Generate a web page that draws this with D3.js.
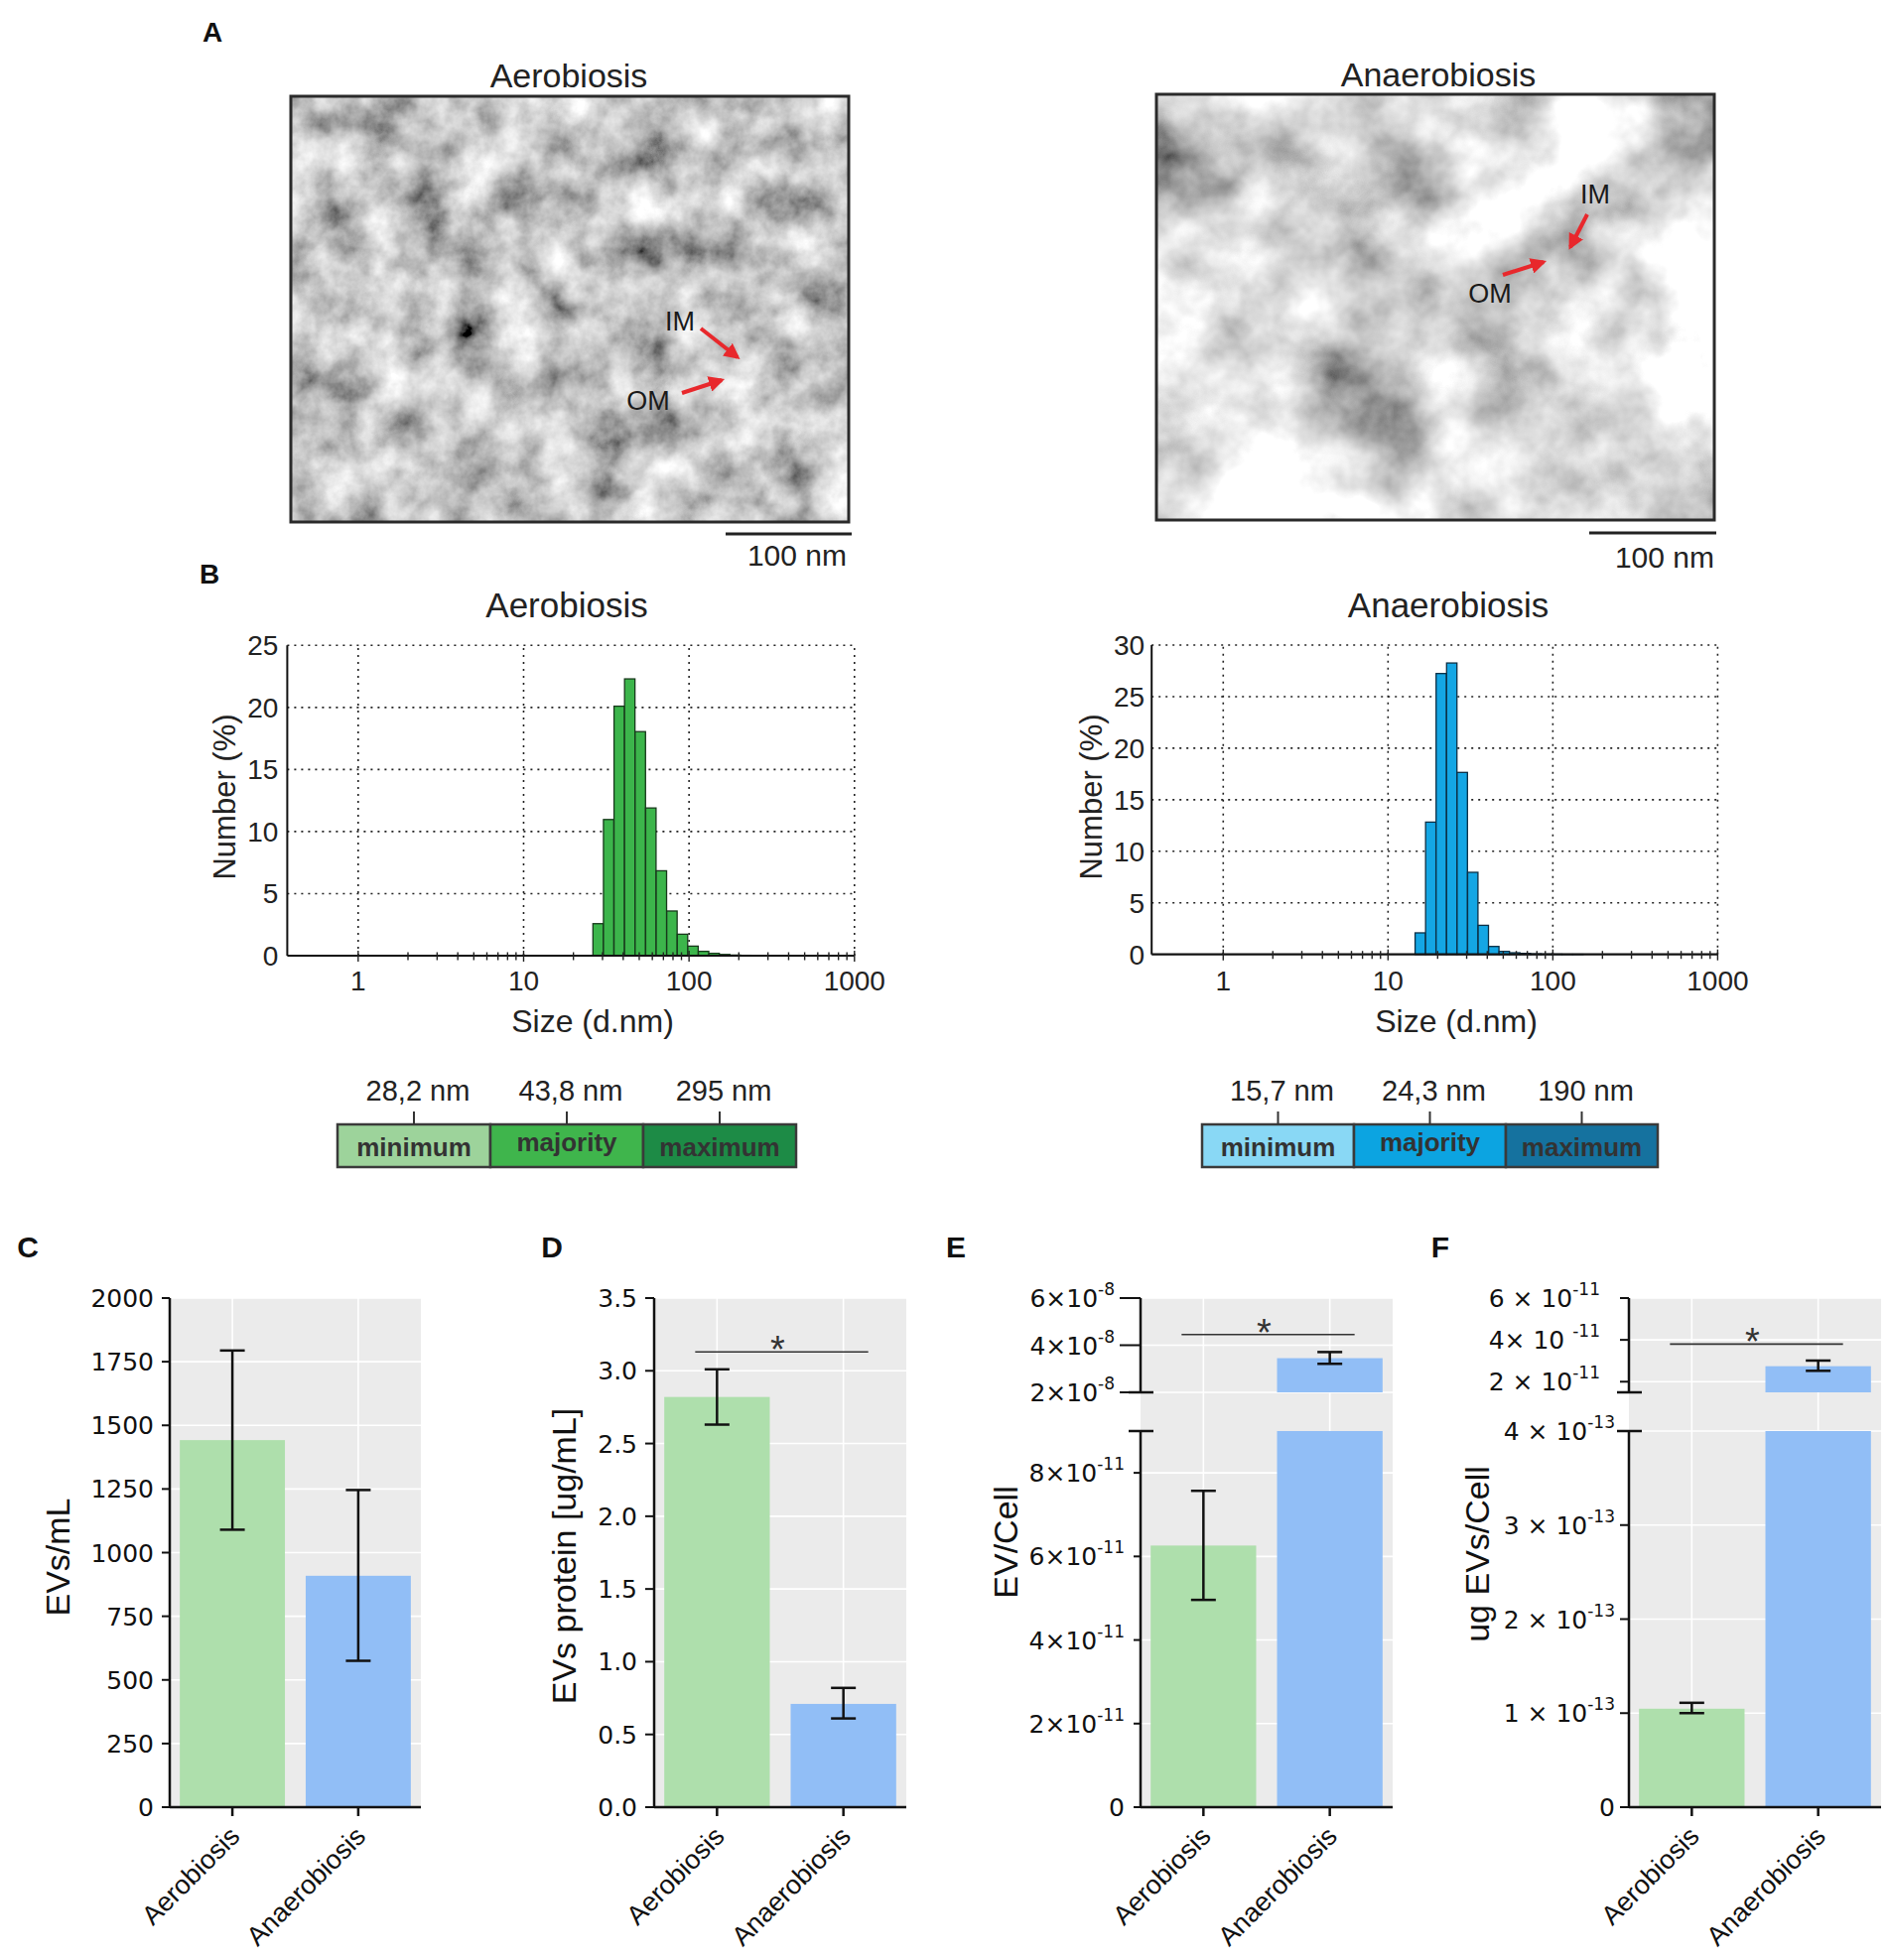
<!DOCTYPE html>
<html><head><meta charset="utf-8">
<script src="https://cdn.jsdelivr.net/npm/d3@7/dist/d3.min.js"></script>
<style>body{margin:0;background:#fff} text{font-family:"Liberation Sans",Arial,Helvetica,sans-serif;white-space:pre}</style>
</head><body>
<svg id="fig" width="1902" height="1975" xmlns="http://www.w3.org/2000/svg"></svg>
<script>
// ---------------- DATA ----------------
const conditions = ["Aerobiosis", "Anaerobiosis"];

// Panel B: DLS number distribution (Zetasizer size classes, d.nm)
const sizeClassesNm = [15.69, 18.17, 21.04, 24.36, 28.21, 32.67, 37.84, 43.82, 50.75, 58.77, 68.06, 78.82, 91.28, 105.7, 122.4, 141.8, 164.2, 190.1, 220.2, 255.0, 295.3];
const aeroNumberPct   = [0, 0, 0, 0, 2.58, 10.97, 20.1, 22.3, 18.05, 11.9, 6.84, 3.6, 1.73, 0.77, 0.35, 0.19, 0.1, 0.05, 0.03, 0.02, 0.01];
const anaeroNumberPct = [2.09, 12.83, 27.24, 28.26, 17.65, 7.96, 2.82, 0.77, 0.29, 0.16, 0.1, 0.05, 0.03, 0.02, 0.01, 0.01, 0, 0, 0, 0, 0];
const sizeTicks = [1, 10, 100, 1000];
const statNames = ["minimum", "majority", "maximum"];
const aeroStatLabels = ["28,2 nm", "43,8 nm", "295 nm"];
const anaeroStatLabels = ["15,7 nm", "24,3 nm", "190 nm"];

// Panel C
const evsPerMl = [1442, 909];
const evsPerMlLow = [1090, 575];
const evsPerMlHigh = [1794, 1246];
const cTicks = [0, 250, 500, 750, 1000, 1250, 1500, 1750, 2000];
const cTickLabels = ["0", "250", "500", "750", "1000", "1250", "1500", "1750", "2000"];

// Panel D
const protein = [2.82, 0.71];
const proteinLow = [2.63, 0.61];
const proteinHigh = [3.01, 0.82];
const dTicks = [0, 0.5, 1, 1.5, 2, 2.5, 3, 3.5];
const dTickLabels = ["0.0", "0.5", "1.0", "1.5", "2.0", "2.5", "3.0", "3.5"];
const dSignif = 3.13;

// Panel E
const evPerCell = [6.26e-11, 3.45e-8];
const evPerCellLow = [4.96e-11, 3.21e-8];
const evPerCellHigh = [7.57e-11, 3.71e-8];
const eLowerTicks = [0, 2e-11, 4e-11, 6e-11, 8e-11];
const eLowerLabels = ["0", ["2×10", "-11"], ["4×10", "-11"], ["6×10", "-11"], ["8×10", "-11"]];
const eUpperTicks = [2e-8, 4e-8, 6e-8];
const eUpperLabels = [["2×10", "-8"], ["4×10", "-8"], ["6×10", "-8"]];
const eSignif = 4.45e-8;

// Panel F
const ugPerCell = [1.047e-13, 2.74e-11];
const ugPerCellLow = [1.0e-13, 2.52e-11];
const ugPerCellHigh = [1.11e-13, 3.01e-11];
const fLowerTicks = [0, 1e-13, 2e-13, 3e-13, 4e-13];
const fLowerLabels = ["0", ["1 × 10", "-13"], ["2 × 10", "-13"], ["3 × 10", "-13"], ["4 × 10", "-13"]];
const fUpperTicks = [2e-11, 4e-11, 6e-11];
const fUpperLabels = [["2 × 10", "-11"], ["4× 10 ", "-11"], ["6 × 10", "-11"]];
const fSignif = 3.8e-11;

// ---------------- DRAWING ----------------
const svg = d3.select("#fig");
svg.append("rect").attr("width", 1902).attr("height", 1975).attr("fill", "#fff");
const defs = svg.append("defs");

function text(g, x, y, s, o = {}) {
  return g.append("text").attr("x", x).attr("y", y).text(s)
    .attr("font-size", o.size || 26).attr("fill", o.fill || "#1a1a1a")
    .attr("text-anchor", o.anchor || "start")
    .attr("font-weight", o.weight || "normal");
}

// ---- Panel A (micrographs) ----
const micro = [
  {title: "Aerobiosis", tx: 573, ty: 88, x: 293, y: 97, w: 562, h: 429, freq: 0.022, gain: 1.35, mean: 0.56, seed: 4,
   bar: [731, 858, 538], barText: [853, 570],
   labels: [["IM", 685, 333], ["OM", 653, 413]],
   arrows: [[706, 331, 743, 360], [687, 396, 727, 383]]},
  {title: "Anaerobiosis", tx: 1449, ty: 87, x: 1165, y: 95, w: 562, h: 429, freq: 0.009, gain: 1.9, mean: 0.72, seed: 11,
   bar: [1601, 1729, 537], barText: [1727, 572],
   labels: [["IM", 1607, 205], ["OM", 1501, 305]],
   arrows: [[1599, 216, 1582, 249], [1514, 277, 1555, 264]]}
];
defs.append("marker").attr("id", "redArrow").attr("viewBox", "0 0 10 10").attr("refX", 8).attr("refY", 5)
  .attr("markerWidth", 4).attr("markerHeight", 4).attr("orient", "auto")
  .append("path").attr("d", "M0,0 L10,5 L0,10 z").attr("fill", "#e8282c");
text(svg, 214, 42, "A", {size: 28, weight: "bold", anchor: "middle", fill: "#111"});
micro.forEach((m, i) => {
  const f = defs.append("filter").attr("id", "em" + i).attr("filterUnits", "userSpaceOnUse")
    .attr("x", m.x).attr("y", m.y).attr("width", m.w).attr("height", m.h);
  f.append("feTurbulence").attr("type", "fractalNoise").attr("baseFrequency", m.freq)
    .attr("numOctaves", 5).attr("seed", m.seed).attr("result", "n");
  const b = m.mean - m.gain * 0.5;
  f.append("feColorMatrix").attr("in", "n").attr("type", "matrix")
    .attr("values", `${m.gain} 0 0 0 ${b}  ${m.gain} 0 0 0 ${b}  ${m.gain} 0 0 0 ${b}  0 0 0 0 1`);
  svg.append("rect").attr("x", m.x).attr("y", m.y).attr("width", m.w).attr("height", m.h)
    .attr("fill", "#999").attr("filter", `url(#em${i})`);
  svg.append("rect").attr("x", m.x).attr("y", m.y).attr("width", m.w).attr("height", m.h)
    .attr("fill", "none").attr("stroke", "#2a2a2a").attr("stroke-width", 3);
  text(svg, m.tx, m.ty, m.title, {size: 34, anchor: "middle", fill: "#222"});
  svg.append("line").attr("x1", m.bar[0]).attr("x2", m.bar[1]).attr("y1", m.bar[2]).attr("y2", m.bar[2])
    .attr("stroke", "#222").attr("stroke-width", 3);
  text(svg, m.barText[0], m.barText[1], "100 nm", {size: 30, anchor: "end", fill: "#222"});
  m.labels.forEach(l => text(svg, l[1], l[2], l[0], {size: 27, anchor: "middle", fill: "#1a1a1a"}));
  m.arrows.forEach(a => svg.append("line").attr("x1", a[0]).attr("y1", a[1]).attr("x2", a[2]).attr("y2", a[3])
    .attr("stroke", "#e8282c").attr("stroke-width", 4).attr("marker-end", "url(#redArrow)"));
});

// ---- Panel B (histograms) ----
const binHalfRatio = 1.075; // half-width of a Zetasizer size class (log-spaced)
text(svg, 211, 588, "B", {size: 28, weight: "bold", anchor: "middle", fill: "#111"});
function histPanel(cfg) {
  const g = svg.append("g");
  const x = d3.scaleLog().domain([cfg.xmin, 1000]).range([cfg.x0, cfg.x1]);
  const y = d3.scaleLinear().domain([0, cfg.ymax]).range([cfg.y0, cfg.yTop]);
  const yt = y.ticks(cfg.ymax / 5);
  const dot = {stroke: "#222", "stroke-width": 1.6, "stroke-dasharray": "2,5"};
  yt.filter(t => t > 0).forEach(t => {
    const l = g.append("line").attr("x1", cfg.x0).attr("x2", cfg.x1).attr("y1", y(t)).attr("y2", y(t));
    Object.entries(dot).forEach(([k, v]) => l.attr(k, v));
  });
  sizeTicks.forEach(t => {
    const l = g.append("line").attr("x1", x(t)).attr("x2", x(t)).attr("y1", cfg.y0).attr("y2", cfg.yTop);
    Object.entries(dot).forEach(([k, v]) => l.attr(k, v));
  });
  g.selectAll("rect.bin").data(sizeClassesNm.map((s, i) => ({s, v: cfg.values[i]})).filter(d => d.v > 0))
    .join("rect").attr("class", "bin")
    .attr("x", d => x(d.s / binHalfRatio)).attr("width", d => x(d.s * binHalfRatio) - x(d.s / binHalfRatio))
    .attr("y", d => y(d.v)).attr("height", d => cfg.y0 - y(d.v))
    .attr("fill", cfg.fill).attr("stroke", cfg.stroke).attr("stroke-width", 1.3);
  g.append("line").attr("x1", cfg.x0).attr("x2", cfg.x0).attr("y1", cfg.y0).attr("y2", cfg.yTop)
    .attr("stroke", "#111").attr("stroke-width", 2);
  g.append("line").attr("x1", cfg.x0).attr("x2", cfg.x1).attr("y1", cfg.y0).attr("y2", cfg.y0)
    .attr("stroke", "#111").attr("stroke-width", 2.2);
  x.ticks().filter(t => t >= 1).forEach(t => {
    const major = sizeTicks.includes(t);
    g.append("line").attr("x1", x(t)).attr("x2", x(t)).attr("y1", cfg.y0 - (major ? 5 : 3.5)).attr("y2", cfg.y0 + (major ? 6 : 4.5))
      .attr("stroke", "#222").attr("stroke-width", 1.4);
  });
  yt.forEach(t => text(g, cfg.x0 - cfg.labGap, y(t) + 10, String(t), {size: 28, anchor: "end", fill: "#222"}));
  sizeTicks.forEach(t => text(g, x(t), 998, String(t), {size: 28, anchor: "middle", fill: "#222"}));
  text(g, cfg.titleX, 622, cfg.title, {size: 35, anchor: "middle", fill: "#222"});
  text(g, cfg.xlabX, 1040, "Size (d.nm)", {size: 32, anchor: "middle", fill: "#222"});
  text(g, 0, 0, "Number (%)", {size: 31, anchor: "middle", fill: "#222"})
    .attr("transform", `translate(${cfg.ylabX},803) rotate(-90)`);
  const lb = d3.scaleBand().domain(statNames).range(cfg.legend);
  statNames.forEach((n, i) => {
    g.append("rect").attr("x", lb(n)).attr("y", 1133).attr("width", lb.bandwidth()).attr("height", 43)
      .attr("fill", cfg.legendColors[i]).attr("stroke", "#3a3a3a").attr("stroke-width", 2.5);
    const cx = lb(n) + lb.bandwidth() / 2;
    g.append("line").attr("x1", cx).attr("x2", cx).attr("y1", 1120).attr("y2", 1133).attr("stroke", "#333").attr("stroke-width", 2);
    text(g, cx + 4, 1109, cfg.statLabels[i], {size: 29, anchor: "middle", fill: "#222"});
    text(g, cx, n === "majority" ? 1160 : 1165, n, {size: 26, anchor: "middle", fill: "#333", weight: "bold"});
  });
}
histPanel({values: aeroNumberPct, xmin: 0.3727, x0: 289.4, x1: 860.8, y0: 963, yTop: 650.3, ymax: 25,
  fill: "#3cb54b", stroke: "#17391b", labGap: 9, title: "Aerobiosis", titleX: 571, xlabX: 597, ylabX: 237,
  legend: [340, 802], legendColors: ["#9dd39b", "#3fb54c", "#1d8b46"], statLabels: aeroStatLabels});
histPanel({values: anaeroNumberPct, xmin: 0.368, x0: 1160.2, x1: 1730.4, y0: 961.7, yTop: 650, ymax: 30,
  fill: "#14a6e4", stroke: "#0b2f45", labGap: 7, title: "Anaerobiosis", titleX: 1459, xlabX: 1467, ylabX: 1110,
  legend: [1211, 1670], legendColors: ["#89d8f5", "#0ca4e1", "#15729f"], statLabels: anaeroStatLabels});

// ---- Panels C-F (bar charts) ----
const barColors = ["#aedfac", "#91bef6"];
function tickLabel(g, x, y, lab) {
  const t = g.append("text").attr("x", x).attr("y", y).attr("text-anchor", "end")
    .attr("font-size", 25).attr("fill", "#111").attr("dy", "0.36em")
    .style("font-family", "'DejaVu Sans', Verdana, sans-serif");
  if (typeof lab === "string") { t.text(lab); return; }
  t.append("tspan").text(lab[0]);
  t.append("tspan").attr("font-size", 17).attr("dy", -12).text(lab[1]);
}
function barPanel(cfg) {
  const g = svg.append("g");
  const x = d3.scaleBand().domain(conditions).range([cfg.x0, cfg.x1]).paddingInner(0.165).paddingOuter(0.08);
  const segs = cfg.segs.map(s => ({...s, scale: d3.scaleLinear().domain(s.domain).range(s.range)}));
  const yOf = v => {
    for (const s of segs) if (v >= s.domain[0] && v <= s.domain[1]) return s.scale(v);
    return segs[segs.length - 1].scale(v);
  };
  const yBottom = segs[0].range[0], yTop = segs[segs.length - 1].range[1];
  g.append("rect").attr("x", cfg.x0).attr("y", yTop).attr("width", cfg.x1 - cfg.x0).attr("height", yBottom - yTop).attr("fill", "#ebebeb");
  segs.forEach(s => s.ticks.filter(t => t > 0).forEach(t =>
    g.append("line").attr("x1", cfg.x0).attr("x2", cfg.x1).attr("y1", s.scale(t)).attr("y2", s.scale(t))
      .attr("stroke", "#fff").attr("stroke-width", 1.6)));
  conditions.forEach(c => g.append("line").attr("x1", x(c) + x.bandwidth() / 2).attr("x2", x(c) + x.bandwidth() / 2)
    .attr("y1", yTop).attr("y2", yBottom).attr("stroke", "#fff").attr("stroke-width", 1.6));
  conditions.forEach((c, i) => {
    const v = cfg.values[i];
    segs.forEach(s => {
      if (v <= s.domain[0] && s.domain[0] !== 0) return;
      const top = Math.min(v, s.domain[1]);
      g.append("rect").attr("x", x(c)).attr("width", x.bandwidth())
        .attr("y", s.scale(top)).attr("height", s.scale(s.domain[0]) - s.scale(top)).attr("fill", barColors[i]);
    });
  });
  conditions.forEach((c, i) => {
    const cx = x(c) + x.bandwidth() / 2, y1 = yOf(cfg.low[i]), y2 = yOf(cfg.high[i]);
    g.append("line").attr("x1", cx).attr("x2", cx).attr("y1", y1).attr("y2", y2).attr("stroke", "#111").attr("stroke-width", 2.5);
    [y1, y2].forEach(yy => g.append("line").attr("x1", cx - 12.5).attr("x2", cx + 12.5).attr("y1", yy).attr("y2", yy)
      .attr("stroke", "#111").attr("stroke-width", 2.5));
  });
  segs.forEach(s => {
    g.append("line").attr("x1", cfg.x0).attr("x2", cfg.x0).attr("y1", s.range[0]).attr("y2", s.range[1]).attr("stroke", "#111").attr("stroke-width", 2.5);
    s.ticks.forEach((t, k) => {
      g.append("line").attr("x1", cfg.x0 - s.tickLen).attr("x2", cfg.x0).attr("y1", s.scale(t)).attr("y2", s.scale(t))
        .attr("stroke", "#111").attr("stroke-width", 2);
      tickLabel(g, cfg.x0 - s.tickLen - s.gap, s.scale(t), s.labels[k]);
    });
  });
  if (segs.length > 1) {
    [segs[0].range[1], segs[1].range[0]].forEach(yy =>
      g.append("line").attr("x1", cfg.x0 - 12).attr("x2", cfg.x0 + 13).attr("y1", yy).attr("y2", yy)
        .attr("stroke", "#111").attr("stroke-width", 2.5));
  }
  g.append("line").attr("x1", cfg.x0).attr("x2", cfg.x1).attr("y1", yBottom).attr("y2", yBottom).attr("stroke", "#111").attr("stroke-width", 2.5);
  conditions.forEach(c => {
    const cx = x(c) + x.bandwidth() / 2;
    g.append("line").attr("x1", cx).attr("x2", cx).attr("y1", yBottom).attr("y2", yBottom + 9).attr("stroke", "#111").attr("stroke-width", 2.5);
    text(g, 0, 0, c, {size: 27, anchor: "end", fill: "#111"})
      .attr("transform", `translate(${cx + 9},${yBottom + 31}) rotate(-45)`);
  });
  if (cfg.sig !== undefined) {
    const c0 = x(conditions[0]) + x.bandwidth() / 2, c1 = x(conditions[1]) + x.bandwidth() / 2;
    const ys = yOf(cfg.sig), xa = c0 - 22, xb = c1 + 25;
    g.append("line").attr("x1", xa).attr("x2", xb).attr("y1", ys).attr("y2", ys).attr("stroke", "#333").attr("stroke-width", 1.6);
    text(g, (xa + xb) / 2 - 4, ys + 11, "*", {size: 38, anchor: "middle", fill: "#333"});
  }
  text(g, 0, 0, cfg.ylabel, {size: 34, anchor: "middle", fill: "#111"})
    .attr("transform", `translate(${cfg.ylabX},${cfg.ylabY}) rotate(-90)`);
  text(g, cfg.letter[1], 1267, cfg.letter[0], {size: 30, weight: "bold", anchor: "middle", fill: "#111"});
}

barPanel({letter: ["C", 28], x0: 171, x1: 424, values: evsPerMl, low: evsPerMlLow, high: evsPerMlHigh,
  segs: [{domain: [0, 2000], range: [1821, 1308], ticks: cTicks, labels: cTickLabels, tickLen: 8, gap: 8}],
  ylabel: "EVs/mL", ylabX: 70, ylabY: 1569});
barPanel({letter: ["D", 556], x0: 659, x1: 913, values: protein, low: proteinLow, high: proteinHigh, sig: dSignif,
  segs: [{domain: [0, 3.5], range: [1821, 1308], ticks: dTicks, labels: dTickLabels, tickLen: 9, gap: 8}],
  ylabel: "EVs protein [ug/mL]", ylabX: 580, ylabY: 1568});
barPanel({letter: ["E", 963], x0: 1149, x1: 1403, values: evPerCell, low: evPerCellLow, high: evPerCellHigh, sig: eSignif,
  segs: [{domain: [0, 9e-11], range: [1821, 1442], ticks: eLowerTicks, labels: eLowerLabels, tickLen: 7, gap: 9},
         {domain: [2e-8, 6e-8], range: [1403, 1308], ticks: eUpperTicks, labels: eUpperLabels, tickLen: 21, gap: 5}],
  ylabel: "EV/Cell", ylabX: 1025, ylabY: 1554});
barPanel({letter: ["F", 1451], x0: 1641, x1: 1895, values: ugPerCell, low: ugPerCellLow, high: ugPerCellHigh, sig: fSignif,
  segs: [{domain: [0, 4e-13], range: [1821, 1442], ticks: fLowerTicks, labels: fLowerLabels, tickLen: 9, gap: 5},
         {domain: [1.49e-11, 6e-11], range: [1403, 1308], ticks: fUpperTicks, labels: fUpperLabels, tickLen: 9, gap: 20}],
  ylabel: "ug EVs/Cell", ylabX: 1500, ylabY: 1566});
</script>
</body></html>
